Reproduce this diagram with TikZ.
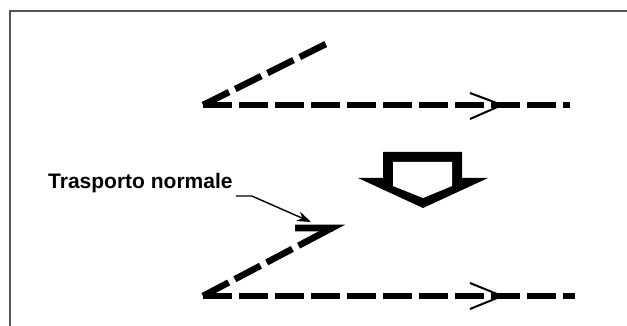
\documentclass[tikz,border=0pt]{standalone}
\usepackage{fontspec}
\setmainfont{Liberation Sans}
\usetikzlibrary{arrows.meta, calc}
\definecolor{cFrame}{RGB}{85,85,85}
\tikzset{
  %% stitch lines
  stitch/.style={line width=6.5pt, dash pattern=on 29pt off 7pt},
  stub/.style={line width=6.5pt},
  %% feed direction chevron
  chevron/.style={line width=2pt, line join=miter},
  %% leader line of the label
  leader/.style={-{Stealth[length=14pt, width=10pt]}, line width=1.4pt},
  label/.style={font=\bfseries\fontsize{21}{24}\selectfont, inner sep=0pt, anchor=base west},
  frameline/.style={draw=cFrame, line width=2pt},
}
\begin{document}
\begin{tikzpicture}[x=1pt, y=-1pt]
\useasboundingbox (0,0) rectangle (627,326);

%% frame (top and left edge only)
\draw[frameline] (9.5,326) -- (9.5,11.5) -- (627,11.5);

%% ----- upper stitch -----
\coordinate (Ac) at (203,105);
\coordinate (At) at (328,43);
\coordinate (Ae) at (570,105);
\draw[stitch] (Ac) -- (At);
\draw[stitch] (Ac) -- (Ae);
\draw[chevron] (470,93) -- (502,105) -- (470,119);

%% ----- big down arrow -----
\fill (383,152) -- (462,152) -- (462,178) -- (488,178) -- (423,208)
      -- (358,178) -- (383,178) -- cycle;
\fill[white] (393,162) -- (452,162) -- (452,186) -- (423,198)
      -- (393,186) -- cycle;

%% ----- lower stitch -----
\coordinate (Bc) at (203,296);
\coordinate (Bt) at (332,228);
\coordinate (Bs) at (295,228);
\coordinate (Be) at (575,296);
\draw[stub, line join=miter] (Bs) -- (Bt) -- ($(Bt)!10pt!(Bc)$);
\draw[stitch] (Bc) -- (Bt);
\draw[stitch] (Bc) -- (Be);
\draw[chevron] (470,283) -- (502,296) -- (470,309);

%% ----- label -----
\node[label] (lbl) at (48,189) {Trasporto normale};
\coordinate (tip) at (311,222);
\draw[leader] ([xshift=3pt, yshift=-7pt]lbl.base east) -- ++(16,0) -- (tip);

\end{tikzpicture}
\end{document}
